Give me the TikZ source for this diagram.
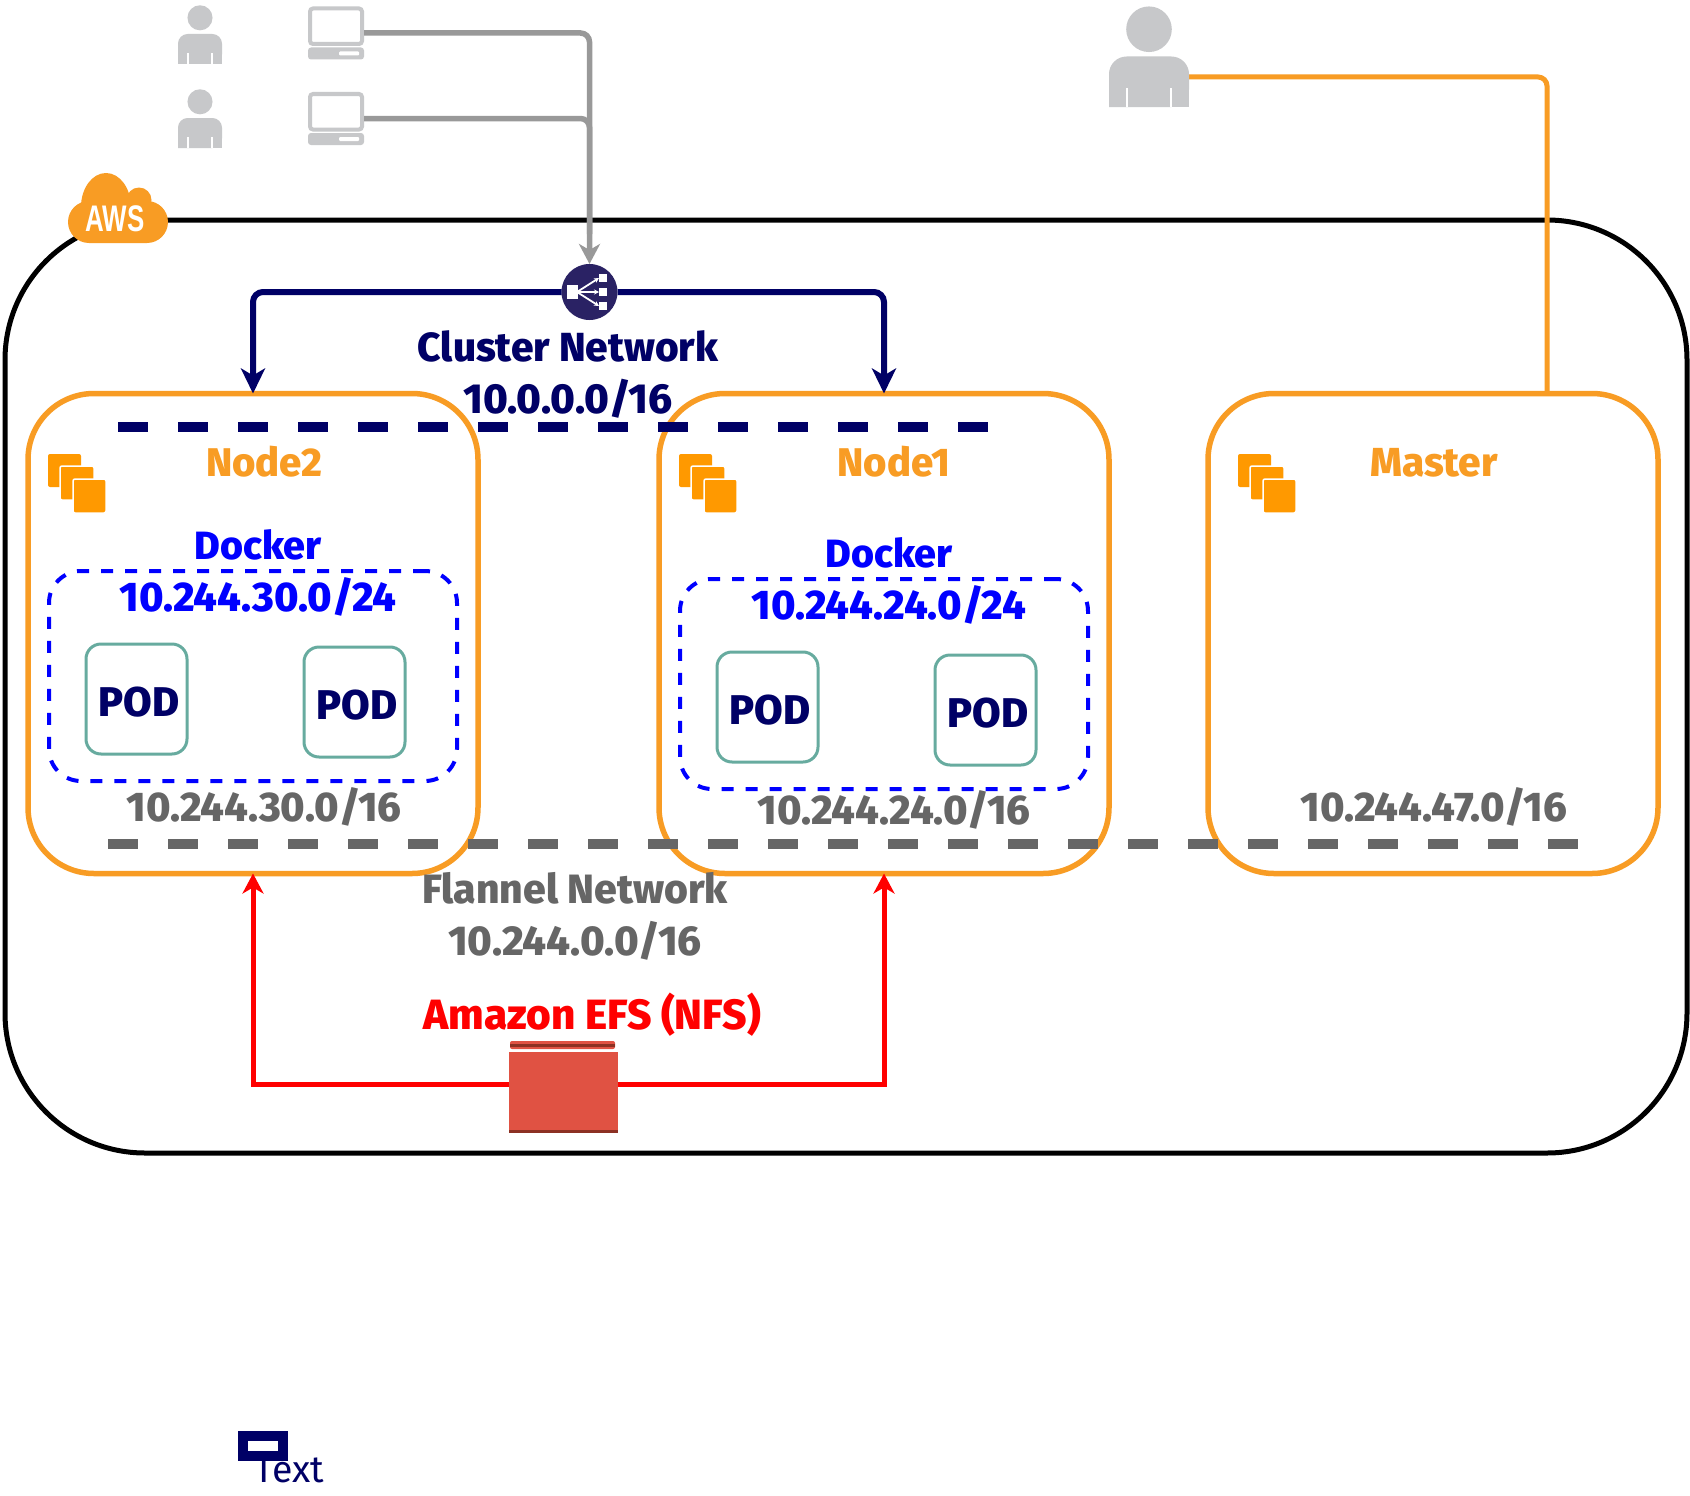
\documentclass[tikz,border=0pt]{standalone}
\usepackage{fontspec}
\setmainfont{Fira Sans}[BoldFont={Fira Sans ExtraBold}]
\newfontfamily\awsfont{Liberation Sans}
\usetikzlibrary{arrows.meta,calc}
\definecolor{navy}{HTML}{000066}
\definecolor{lbnavy}{HTML}{2A2264}
\definecolor{awsorange}{HTML}{F89C24}
\definecolor{stackorange}{HTML}{FF9900}
\definecolor{iconnode}{HTML}{C7C8CA}
\definecolor{podgreen}{HTML}{67AB9F}
\definecolor{efsred}{HTML}{E05243}
\definecolor{efsdark}{HTML}{8C3123}
\definecolor{flgray}{HTML}{666666}
\definecolor{linegray}{HTML}{999999}
\tikzset{
  x=1pt,y=-1pt,
  hostbox/.style={draw=awsorange,line width=5.5pt,rounded corners=66pt,minimum width=450pt,minimum height=480pt,outer sep=0pt,inner sep=0pt},
  dockerbox/.style={draw=blue,line width=4pt,dash pattern=on 12pt off 12pt,rounded corners=32pt,minimum width=408pt,minimum height=210pt,outer sep=0pt},
  podbox/.style={draw=podgreen,line width=3pt,rounded corners=15pt,minimum width=101pt,minimum height=110pt,outer sep=0pt},
  lbl/.style={font=\fontsize{#1}{#1}\selectfont\bfseries,inner sep=0pt,outer sep=0pt,anchor=center},
  lbl/.default=40,
  ghost/.style={inner sep=0pt,outer sep=0pt},
  grayline/.style={draw=linegray,line width=5.5pt,rounded corners=9pt},
  navyline/.style={draw=navy,line width=6pt,rounded corners=10pt,-{Stealth[length=25pt,width=24pt,inset=7pt]}},
  redline/.style={draw=red,line width=5pt,-{Stealth[length=20pt,width=21pt,inset=6pt]}},
  longdash/.style={line width=10pt,dash pattern=on 30pt off 30pt},
  pics/userfig/.style args={#1/#2}{code={
    \fill[iconnode] (0,-#2*0.54) circle[radius=#1*0.285];
    \fill[iconnode,rounded corners=#1*0.22] (-#1*0.5,#2) -- (-#1*0.5,0) -- (#1*0.5,0) -- (#1*0.5,#2) [sharp corners] -- cycle;
    \fill[iconnode] (-#1*0.5,#2*0.5) rectangle (#1*0.5,#2);
    \fill[white] (-#1*0.29,#2*0.62) rectangle ++(1.8,#2*0.38);
    \fill[white] (#1*0.29,#2*0.62) rectangle ++(-1.8,#2*0.38);
  }},
  pics/pcfig/.style={code={
    \draw[iconnode,line width=4pt,rounded corners=3pt] (-26,-24.5) rectangle (26,11);
    \fill[iconnode,rounded corners=3pt] (-28,14.5) rectangle (28,26.5);
    \fill[white,rounded corners=1pt] (3,18.5) rectangle (23,22.5);
  }},
  pics/stackfig/.style={code={
    \fill[stackorange,rounded corners=2pt] (0,0) rectangle (33,33);
    \fill[stackorange,rounded corners=2pt,draw=white,line width=1.5pt] (12,12) rectangle (46,46);
    \fill[stackorange,rounded corners=2pt,draw=white,line width=1.5pt] (25,25) rectangle (58,59);
  }},
}
\begin{document}
\begin{tikzpicture}
\useasboundingbox[fill=white] (0,0) rectangle (1690,1496);

% AWS boundary
\draw[black,line width=5pt,rounded corners=140pt] (5,220) rectangle (1687,1153);

% hosts
\node[hostbox] (node2) at (253,633.5) {};
\node[hostbox] (node1) at (884,633.5) {};
\node[hostbox] (master) at (1433,633.5) {};

% user -> master
\coordinate (userout) at (1189,77);
\coordinate (masterin) at (1547,393.5);
\draw[draw=awsorange,line width=5pt,rounded corners=9pt] (userout) -| (masterin);

% terminals and users
\node[ghost,minimum width=44pt,minimum height=60pt] (user1) at (200,34) {};
\node[ghost,minimum width=44pt,minimum height=60pt] (user2) at (200,118) {};
\pic at (user1.center) {userfig={44/30}};
\pic at (user2.center) {userfig={44/30}};
\node[ghost,minimum width=56pt,minimum height=53pt] (pc1) at (336,33) {};
\node[ghost,minimum width=56pt,minimum height=53pt] (pc2) at (336,118.5) {};
\pic at (pc1.center) {pcfig};
\pic at (pc2.center) {pcfig};
\node[ghost,minimum width=80pt,minimum height=101pt] (admin) at (1149,56.5) {};
\pic at (admin.center) {userfig={80/50.5}};

% load balancer
\node[circle,fill=lbnavy,minimum size=56pt,inner sep=0pt,outer sep=0pt] (lb) at (589.5,292) {};
\draw[grayline,-{Stealth[length=20pt,width=21pt,inset=6pt]}] (pc1.east) -| (lb.north);
\draw[grayline] (pc2.east) -| ($(lb.north)+(0,-30)$);
\draw[navyline] (lb.west) -| (node2.north);
\draw[navyline] (lb.east) -| (node1.north);
\fill[white] (567,285) rectangle (578,298.5);
\foreach \yy in {278,292,306}{
  \fill[white] (599,\yy-4) rectangle (607,\yy+4);
  \draw[white,line width=1.8pt,-{Stealth[length=5pt,width=5pt]}] (577,292) -- (599,\yy);
}

% dashed networks
\coordinate (clusterA) at (118,427);
\coordinate (clusterB) at (988,427);
\coordinate (flannelA) at (108,844);
\coordinate (flannelB) at (1578,844);
\draw[navy,longdash] (clusterA) -- (clusterB);
\draw[flgray,longdash] (flannelA) -- (flannelB);

% stacks
\pic at (48,454) {stackfig};
\pic at (679,454) {stackfig};
\pic at (1238,454) {stackfig};

% docker boxes
\node[dockerbox] (docker2) at (253,676) {};
\node[dockerbox] (docker1) at (884,684) {};
\node[podbox] (pod2a) at (136.5,699) {};
\node[podbox] (pod2b) at (354.5,702) {};
\node[podbox] (pod1a) at (767.5,707) {};
\node[podbox] (pod1b) at (985.5,710) {};

% labels
\node[lbl=40.6,text=navy] (t1) at (568,346) {Cluster Network};
\node[lbl=42,text=navy] (t2) at (568,398.5) {10.0.0.0/16};
\node[lbl=40,text=awsorange] (t3) at (264,462) {Node2};
\node[lbl=40,text=awsorange] (t4) at (894,462) {Node1};
\node[lbl=40.5,text=awsorange] (t5) at (1434,463) {Master};
\node[lbl=39.4,text=blue] (t6) at (258,545) {Docker};
\node[lbl=39.4,text=blue] (t7) at (889,553) {Docker};
\node[lbl=41.5,text=blue] (t8) at (258,597) {10.244.30.0/24};
\node[lbl=41.5,text=blue] (t9) at (889,605) {10.244.24.0/24};
\node[lbl=41.5,text=navy] (t10) at (139,702.5) {POD};
\node[lbl=41.5,text=navy] (t11) at (357,705.5) {POD};
\node[lbl=41.5,text=navy] (t12) at (770,710.5) {POD};
\node[lbl=41.5,text=navy] (t13) at (988,713.5) {POD};
\node[lbl=41.5,text=flgray] (t14) at (264,807) {10.244.30.0/16};
\node[lbl=41.5,text=flgray] (t15) at (894,810) {10.244.24.0/16};
\node[lbl=41.5,text=flgray] (t16) at (1434,807) {10.244.47.0/16};
\node[lbl=40.9,text=flgray] (t17) at (575,888) {Flannel Network};
\node[lbl=41.8,text=flgray] (t18) at (575,940.5) {10.244.0.0/16};
\node[lbl=42.3,text=red] (t19) at (592,1015) {Amazon EFS (NFS)};

% EFS
\node[rectangle,fill=efsred,minimum width=109pt,minimum height=81pt,inner sep=0pt,outer sep=0pt] (efs) at (563.5,1092.5) {};
\coordinate (efsL) at (509,1084);
\coordinate (efsR) at (618,1084);
\draw[redline] (efsL) -| (node2.south);
\draw[redline] (efsR) -| (node1.south);
\fill[efsdark] (efs.south west) rectangle ($(efs.south east)+(0,-3.5)$);
\fill[efsred,rounded corners=2pt] (510,1041) rectangle (615,1049);
\fill[efsdark] (510,1044) rectangle (615,1047);

% AWS cloud
\fill[awsorange] (106,207) ellipse[x radius=25,y radius=34];
\fill[awsorange] (139,200) circle[radius=12.5];
\fill[awsorange,rounded corners=21pt] (68,201) rectangle (168,243);
\node[ghost,text=white,font=\awsfont\bfseries\fontsize{37}{37}\selectfont,xscale=0.7,transform shape] (aws) at (115,219) {AWS};

% bottom text
\node[ghost,text=navy,font=\fontsize{37.5}{37.5}\selectfont] (bottomtext) at (289.5,1470) {Text};
\node[draw=navy,line width=10pt,fill=white,minimum width=40pt,minimum height=20pt,inner sep=0pt,outer sep=0pt] (bottombox) at (263,1446) {};
\end{tikzpicture}
\end{document}
